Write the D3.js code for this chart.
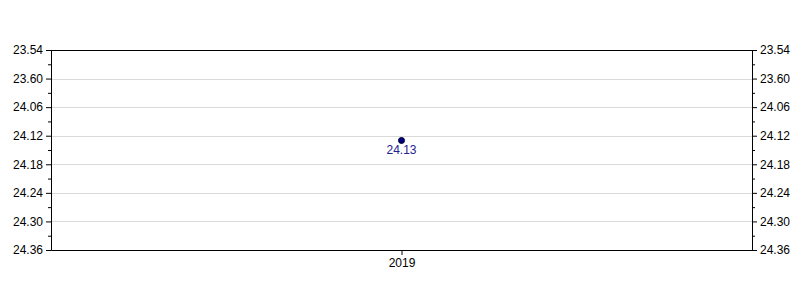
<!DOCTYPE html>
<html>
<head>
<meta charset="utf-8">
<script src="https://cdn.jsdelivr.net/npm/d3@7"></script>
<style>
    body { margin: 0; background: #fff; }
    text { font-family: "Liberation Sans", Arial, sans-serif; font-size: 12px; }
</style>
</head>
<body>
<div id="chart"></div>
<script>
// chart data
var categories = ["2019"];
var pointLabels = ["24.13"];
var tickLabels = ["23.54", "23.60", "24.06", "24.12", "24.18", "24.24", "24.30", "24.36"];

// "mm.ss" text -> seconds
function toSeconds(s) {
    var parts = s.split(".");
    return +parts[0] * 60 + +parts[1];
}

var margin = { left: 51, right: 48, top: 50, bottom: 50 };
var width = 800 - margin.left - margin.right;
var height = 300 - margin.top - margin.bottom;

var svg = d3.select("#chart")
    .append("svg")
    .attr("width", 800)
    .attr("height", 300);
var g = svg.append("g")
    .attr("transform", "translate(" + margin.left + "," + margin.top + ")");

var tickValues = tickLabels.map(toSeconds);
var minorValues = [];
for (var i = 0; i < tickValues.length - 1; i++) {
    minorValues.push((tickValues[i] + tickValues[i + 1]) / 2);
}

var x = d3.scalePoint().domain(categories).range([0, width]).padding(0.5);
var y = d3.scaleLinear()
    .domain([tickValues[0], tickValues[tickValues.length - 1]])
    .range([0, height]);

// grid lines
g.append("g")
    .selectAll("line")
    .data(tickValues.slice(1, -1))
    .enter().append("line")
    .attr("x1", 0)
    .attr("x2", width)
    .attr("y1", d => Math.round(y(d)) + 0.5)
    .attr("y2", d => Math.round(y(d)) + 0.5)
    .attr("stroke", "#d9d9d9");

function fmt(d) { return tickLabels[tickValues.indexOf(d)]; }

// left axis
var yLeft = g.append("g")
    .call(d3.axisLeft(y).tickValues(tickValues).tickFormat(fmt).tickSize(5).tickPadding(3));
yLeft.append("g")
    .call(d3.axisLeft(y).tickValues(minorValues).tickFormat("").tickSize(3))
    .select(".domain").remove();

// right axis
var yRight = g.append("g")
    .attr("transform", "translate(" + width + ",0)")
    .call(d3.axisRight(y).tickValues(tickValues).tickFormat(fmt).tickSize(5).tickPadding(3));
yRight.append("g")
    .call(d3.axisRight(y).tickValues(minorValues).tickFormat("").tickSize(3))
    .select(".domain").remove();

g.selectAll(".domain").attr("stroke", "#000");
g.selectAll(".tick line").attr("stroke", "#000");
g.selectAll(".tick text").attr("fill", "#000").style("font-size", "12px")
    .style("font-family", "'Liberation Sans', Arial, sans-serif");

// top border
g.append("line")
    .attr("x1", 0).attr("x2", width)
    .attr("y1", 0.5).attr("y2", 0.5)
    .attr("stroke", "#000");

// bottom axis
var xAxis = g.append("g")
    .attr("transform", "translate(0," + height + ")")
    .call(d3.axisBottom(x).tickSize(5).tickPadding(3).tickSizeOuter(0));
xAxis.select(".domain").attr("stroke", "#000");
xAxis.selectAll(".tick line").attr("stroke", "#000");
xAxis.selectAll(".tick text").attr("fill", "#000").style("font-size", "12px")
    .style("font-family", "'Liberation Sans', Arial, sans-serif");

// points
var pts = g.append("g");
pts.selectAll("circle")
    .data(pointLabels)
    .enter().append("circle")
    .attr("cx", (d, i) => x(categories[i]))
    .attr("cy", d => y(toSeconds(d)))
    .attr("r", 3)
    .attr("fill", "#000080")
    .attr("stroke", "#000033")
    .attr("stroke-width", 1);

pts.selectAll("text")
    .data(pointLabels)
    .enter().append("text")
    .attr("x", (d, i) => x(categories[i]))
    .attr("y", d => y(toSeconds(d)) + 14)
    .attr("text-anchor", "middle")
    .attr("fill", "#23238f")
    .text(d => d);
</script>
</body>
</html>
